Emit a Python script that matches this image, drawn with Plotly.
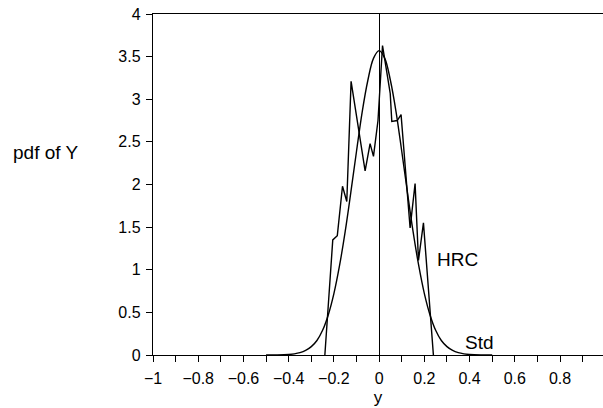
import plotly.graph_objects as go

# ---- data ----
hrc_x = [-0.240, -0.205, -0.185, -0.162, -0.143, -0.124, -0.062, -0.040, -0.025,
         -0.005, 0.015, 0.030, 0.049, 0.056, 0.080, 0.097, 0.137, 0.159, 0.174,
         0.196, 0.226, 0.240]
hrc_y = [0.00, 1.35, 1.40, 1.98, 1.80, 3.21, 2.16, 2.48, 2.33,
         2.75, 3.63, 3.40, 3.07, 2.74, 2.75, 2.82, 1.49, 2.01, 1.11,
         1.55, 0.47, 0.00]

std_x = [-0.5, -0.45, -0.4, -0.375, -0.35, -0.325, -0.3, -0.275, -0.25, -0.225,
         -0.2, -0.175, -0.15, -0.125, -0.1, -0.075, -0.05, -0.025, 0.0,
         0.025, 0.05, 0.075, 0.1, 0.125, 0.15, 0.175, 0.2, 0.225, 0.25,
         0.275, 0.3, 0.325, 0.35, 0.375, 0.4, 0.45, 0.5]
std_y = [0.0, 0.001, 0.006, 0.013, 0.027, 0.053, 0.098, 0.17, 0.29, 0.47,
         0.72, 1.05, 1.45, 1.91, 2.39, 2.85, 3.22, 3.48, 3.57,
         3.48, 3.22, 2.85, 2.39, 1.91, 1.45, 1.05, 0.72, 0.47, 0.29,
         0.17, 0.098, 0.053, 0.027, 0.013, 0.006, 0.001, 0.0]

x_tickvals = [-1, -0.8, -0.6, -0.4, -0.2, 0, 0.2, 0.4, 0.6, 0.8]
x_ticktext = ["\u22121", "\u22120.8", "\u22120.6", "\u22120.4", "\u22120.2",
              "0", "0.2", "0.4", "0.6", "0.8"]
y_tickvals = [0, 0.5, 1, 1.5, 2, 2.5, 3, 3.5, 4]
y_ticktext = ["0", "0.5", "1", "1.5", "2", "2.5", "3", "3.5", "4"]

FONT = "Liberation Sans, Arial, sans-serif"

fig = go.Figure()
fig.add_trace(go.Scatter(x=std_x, y=std_y, mode="lines",
                         line=dict(color="black", width=1.4, shape="spline"),
                         showlegend=False, hoverinfo="skip"))
fig.add_trace(go.Scatter(x=hrc_x, y=hrc_y, mode="lines",
                         line=dict(color="black", width=1.4),
                         showlegend=False, hoverinfo="skip"))

fig.update_layout(
    width=603, height=408,
    margin=dict(l=153, r=0, t=14, b=53, autoexpand=False),
    paper_bgcolor="white", plot_bgcolor="white",
    font=dict(family=FONT, size=16, color="black"),
    xaxis=dict(range=[-1, 0.99], showgrid=False,
               zeroline=True, zerolinecolor="black", zerolinewidth=1.4,
               showline=True, linecolor="black", linewidth=1.4, mirror=True,
               ticks="outside", ticklen=6, tickwidth=1.2, tickcolor="black",
               tickvals=x_tickvals, ticktext=x_ticktext,
               ticklabelstandoff=3,
               minor=dict(dtick=0.1, tick0=0, ticks="outside", ticklen=6,
                          tickwidth=1.2, tickcolor="black", showgrid=False),
               title=dict(text="y", standoff=4, font=dict(size=17))),
    yaxis=dict(range=[0, 4], showgrid=False, zeroline=False,
               showline=True, linecolor="black", linewidth=1.4,
               ticks="outside", ticklen=6, tickwidth=1.2, tickcolor="black",
               tickvals=y_tickvals, ticktext=y_ticktext,
               ticklabelstandoff=2),
    annotations=[
        dict(text="pdf of Y", xref="paper", yref="paper",
             x=-0.315, y=0.595, xanchor="left", yanchor="middle",
             showarrow=False, font=dict(size=19)),
        dict(text="HRC", xref="x", yref="y", x=0.245, y=1.12,
             xanchor="left", yanchor="middle", showarrow=False,
             font=dict(size=19)),
        dict(text="Std", xref="x", yref="y", x=0.37, y=0.15,
             xanchor="left", yanchor="middle", showarrow=False,
             font=dict(size=19)),
    ],
)

fig.write_html("out.html",
               config={"displayModeBar": False},
               post_script="document.body.style.margin='0px';"
                           "document.body.style.overflow='hidden';")
